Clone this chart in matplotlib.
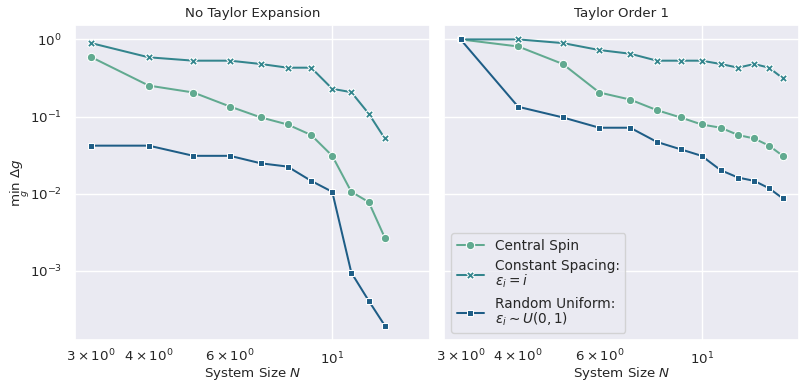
import numpy as np
import matplotlib
matplotlib.use("Agg")
import matplotlib.pyplot as plt
import seaborn as sns

sns.set_theme(style="darkgrid")
plt.rcParams['font.family'] = ['DejaVu Sans']

# system sizes
N_left = [3, 4, 5, 6, 7, 8, 9, 10, 11, 12, 13]
N_right = [3, 4, 5, 6, 7, 8, 9, 10, 11, 12, 13, 14, 15]

# No Taylor expansion
central_left = [0.59, 0.252, 0.205, 0.135, 0.0975, 0.079, 0.0577, 0.031, 0.0106, 0.0078, 0.0027]
const_left = [0.895, 0.586, 0.53, 0.53, 0.48, 0.43, 0.43, 0.229, 0.207, 0.109, 0.052]
random_left = [0.042, 0.042, 0.031, 0.031, 0.0248, 0.0225, 0.0147, 0.0106, 0.00095, 0.00041, 0.000196]

# Taylor order 1
central_right = [1.0, 0.81, 0.48, 0.205, 0.166, 0.121, 0.0975, 0.079, 0.0717, 0.0577, 0.052, 0.042, 0.031]
const_right = [1.0, 1.0, 0.896, 0.728, 0.652, 0.53, 0.53, 0.53, 0.48, 0.43, 0.48, 0.43, 0.314]
random_right = [1.0, 0.134, 0.0975, 0.0717, 0.0717, 0.0469, 0.0377, 0.031, 0.0202, 0.0162, 0.0147, 0.0118, 0.0087]

labels = ['Central Spin', 'Constant Spacing:\n$\\epsilon_i = i$',
          'Random Uniform:\n$\\epsilon_i \\sim U(0, 1)$']
markers = ['o', 'X', 's']
sizes = [6, 6, 5]
colors = sns.color_palette("crest", 3)
fs = 9.6

fig, axes = plt.subplots(1, 2, figsize=(8.07, 3.92), dpi=100, sharey=True, sharex=True)
fig.subplots_adjust(left=0.093, right=0.99, top=0.936, bottom=0.133, wspace=0.042)

panels = [(N_left, [central_left, const_left, random_left], 'No Taylor Expansion'),
          (N_right, [central_right, const_right, random_right], 'Taylor Order 1')]

for ax, (N, series, title) in zip(axes, panels):
    for y, lab, m, ms, c in zip(series, labels, markers, sizes, colors):
        ax.plot(N, y, marker=m, markersize=ms, color=c, label=lab, lw=1.45,
                markeredgecolor='white', markeredgewidth=0.75)
    ax.set_xscale('log')
    ax.set_yscale('log')
    ax.set_title(title, fontsize=fs)
    ax.set_xlabel('System Size $N$', fontsize=fs, labelpad=-1.5)
    ax.tick_params(which='both', labelsize=fs)
    ax.tick_params(axis='x', which='both', pad=2)

axes[0].set_ylabel('$\\min_g\\ \\Delta g$', fontsize=fs, labelpad=-1.5)
leg = axes[1].legend(loc='lower left', fontsize=9.8)
for t in leg.get_texts():
    t.set_linespacing(0.95)

fig.savefig('out.png', dpi=100)
